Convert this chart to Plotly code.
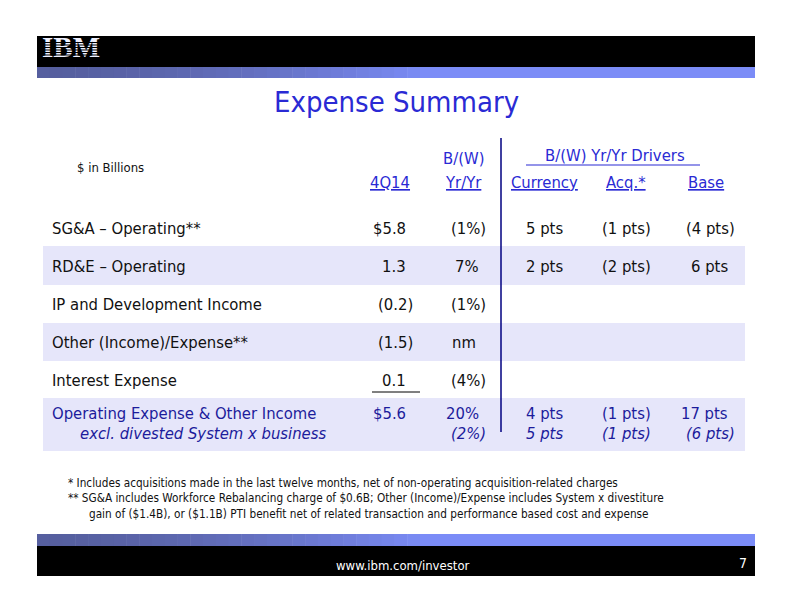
import plotly.graph_objects as go

# Table content
row_labels = [
    "SG&A – Operating**",
    "RD&E – Operating",
    "IP and Development Income",
    "Other (Income)/Expense**",
    "Interest Expense",
    "Operating Expense & Other Income",
]
q4_14 = ["$5.8", "1.3", "(0.2)", "(1.5)", "0.1", "$5.6"]
yr_yr = ["(1%)", "7%", "(1%)", "nm", "(4%)", "20%"]
currency = ["5 pts", "2 pts", "", "", "", "4 pts"]
acquisitions = ["(1 pts)", "(2 pts)", "", "", "", "(1 pts)"]
base = ["(4 pts)", "6 pts", "", "", "", "17 pts"]

excl_label = "excl. divested System x business"
excl_values = ["", "(2%)", "5 pts", "(1 pts)", "(6 pts)"]

footnotes = [
    "* Includes acquisitions made in the last twelve months, net of non-operating acquisition-related charges",
    "** SG&A includes Workforce Rebalancing charge of $0.6B; Other (Income)/Expense includes System x divestiture",
    "gain of ($1.4B), or ($1.1B) PTI benefit net of related transaction and performance based cost and expense",
]

FONT = "DejaVu Sans Condensed, DejaVu Sans, sans-serif"
BLUE = "#2a2ad4"
NAVY = "#1c1c9c"
TEXT = "#111111"
BAND = "#e6e6fa"
BODY = 16.5

row_y = [228, 266, 304, 342, 380, 413]
band_y = [(246, 285), (323, 361), (398, 451)]

shapes = []
annotations = []


def text(x, y, s, size=BODY, color=TEXT, anchor="left", italic=False):
    annotations.append(dict(
        x=x, y=y, text=f"<i>{s}</i>" if italic else s, showarrow=False,
        xanchor=anchor, yanchor="middle",
        font=dict(family=FONT, size=size, color=color),
    ))


def rect(x0, y0, x1, y1, color):
    shapes.append(dict(type="rect", x0=x0, y0=y0, x1=x1, y1=y1,
                       fillcolor=color, line_width=0, layer="below"))


def line(x0, y0, x1, y1, color, width=1, layer="above"):
    shapes.append(dict(type="line", x0=x0, y0=y0, x1=x1, y1=y1, layer=layer,
                       line=dict(color=color, width=width)))


def hex_mix(a, b, t):
    ca = [int(a[i:i + 2], 16) for i in (1, 3, 5)]
    cb = [int(b[i:i + 2], 16) for i in (1, 3, 5)]
    r, g, bl = (round(p + (q - p) * t) for p, q in zip(ca, cb))
    return f"rgb({r},{g},{bl})"


def banner(y0, y1):
    n = 30
    x_start, x_end = 37, 420
    step = (x_end - x_start) / n
    for i in range(n):
        rect(x_start + i * step, y0, x_start + (i + 1) * step + 0.5, y1,
             hex_mix("#565f9f", "#7b8cf7", (i / n) ** 1.6))
    rect(x_end, y0, 755, y1, "#7b8cf7")


# header / footer bars
rect(37, 36, 755, 67, "#000000")
banner(67, 78)
banner(534, 546)
rect(37, 546, 755, 576, "#000000")

# IBM logo stripes (drawn over the logo text trace)
for i in range(1, 8):
    line(39, 40 + i * 2.5, 104, 40 + i * 2.5, "#000000", 1.0)

# title
text(396, 102, "Expense Summary", size=29, color=BLUE, anchor="center")

# shaded bands
for y0, y1 in band_y:
    rect(43, y0, 745, y1, BAND)

# column headers
text(75, 167, "$ in Billions", size=13)
text(412, 182, "<u>4Q14</u>", size=BODY, color=BLUE, anchor="right")
text(463, 158, "B/(W)", size=BODY, color=BLUE, anchor="center")
text(463, 182, "<u>Yr/Yr</u>", size=BODY, color=BLUE, anchor="center")
text(615, 155, "B/(W) Yr/Yr Drivers", size=BODY, color=BLUE, anchor="center")
line(526, 165, 700, 165, BLUE, 1.2)
text(544, 182, "<u>Currency</u>", size=BODY, color=BLUE, anchor="center")
text(626, 182, "<u>Acq.*</u>", size=BODY, color=BLUE, anchor="center")
text(706, 182, "<u>Base</u>", size=BODY, color=BLUE, anchor="center")

# vertical divider
line(501, 138, 501, 432, "#000080", 1.5)


def num(x_right, y, s, color=TEXT, italic=False):
    if not s:
        return
    if s == "nm":
        text(464, y, s, color=color, anchor="center", italic=italic)
        return
    x = x_right + (7 if s.endswith(")") else 0)
    text(x, y, s, color=color, anchor="right", italic=italic)


for i, y in enumerate(row_y):
    col = NAVY if i == len(row_y) - 1 else TEXT
    text(50, y, row_labels[i], color=col)
    num(408, y, q4_14[i], col)
    num(481, y, yr_yr[i], col)
    if currency[i]:
        text(544, y, currency[i], color=col, anchor="center")
    if acquisitions[i]:
        text(626, y, acquisitions[i], color=col, anchor="center")
    num(730, y, base[i], col)

# underline below interest expense total
line(372, 392, 420, 392, "#000000", 1)

# excl. row
ey = 433
text(78, ey, excl_label, color=NAVY, italic=True)
num(481, ey, excl_values[1], NAVY, italic=True)
text(544, ey, excl_values[2], color=NAVY, anchor="center", italic=True)
text(626, ey, excl_values[3], color=NAVY, anchor="center", italic=True)
num(730, ey, excl_values[4], NAVY, italic=True)

# footnotes
text(66, 483, footnotes[0], size=11.7)
text(66, 498, footnotes[1], size=11.7)
text(87, 514, footnotes[2], size=11.7)

# footer text
text(403, 565, "www.ibm.com/investor", size=13, color="#ffffff", anchor="center")
text(749, 563, "7", size=14, color="#ffffff", anchor="right")

fig = go.Figure(go.Scatter(
    x=[71], y=[50], mode="text", text=["<b>IBM</b>"], hoverinfo="skip",
    textfont=dict(family="Liberation Serif", size=29, color="#eef0ff"),
))
# page body has an 8px margin: shrink the figure and offset the ranges to compensate
fig.update_layout(
    width=784, height=604,
    margin=dict(l=0, r=0, t=0, b=0),
    paper_bgcolor="white", plot_bgcolor="white",
    xaxis=dict(range=[8, 792], visible=False, fixedrange=True),
    yaxis=dict(range=[612, 8], visible=False, fixedrange=True),
    shapes=shapes, annotations=annotations, showlegend=False,
)
fig.write_html("out.html")
